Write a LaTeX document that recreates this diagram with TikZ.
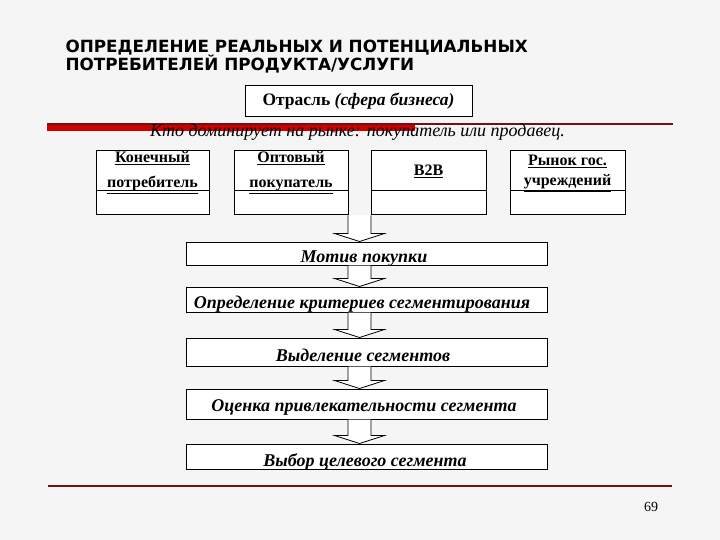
\documentclass[tikz,border=0pt]{standalone}
\usepackage{fontspec}
\setmainfont{Liberation Serif}
\newfontfamily\titlefont{DejaVu Sans}
\usetikzlibrary{calc,positioning}
\definecolor{barred}{RGB}{208,0,0}
\definecolor{linered}{RGB}{110,20,20}
\tikzset{x=1pt,y=-1pt,
  segbox/.style={draw, line width=1pt, fill=white, minimum height=64, inner sep=0pt},
  stepbox/.style={draw, line width=1pt, fill=white, minimum width=361, inner sep=0pt},
  segtext/.style={anchor=base, font=\bfseries\fontsize{16}{18}\selectfont},
  steptext/.style={anchor=base, font=\bfseries\itshape\fontsize{18}{20}\selectfont},
  arrowshape/.style={draw, line width=0.8pt, fill=white, line join=miter}}
\newcommand{\flowarrow}[2]{%
  \draw[arrowshape] ($(#1.south -| axis)+(-11.5,0)$) -- ($(#2.north -| axis)+(-11.5,-8)$)
    -- ++(-13.5,0) -- (#2.north -| axis) -- ($(#2.north -| axis)+(25,-8)$)
    -- ++(-13.5,0) -- ($(#1.south -| axis)+(11.5,0)$);}

\begin{document}
\begin{tikzpicture}

    \fill [black!4] (0,0) rectangle (720,540);
    \useasboundingbox (0,0) rectangle (720,540);
    \coordinate (axis) at (359.5,0);

	% title
	\node [anchor=base west, font=\titlefont\bfseries\fontsize{16.8}{18}\selectfont] (title1) at (62,53) {ОПРЕДЕЛЕНИЕ РЕАЛЬНЫХ И ПОТЕНЦИАЛЬНЫХ};
	\node [anchor=base west, font=\titlefont\bfseries\fontsize{16.8}{18}\selectfont] (title2) at (62,71) {ПОТРЕБИТЕЛЕЙ ПРОДУКТА/УСЛУГИ};

	\node [draw, line width=1pt, fill=white, minimum width=227, minimum height=31, font=\fontsize{17.5}{19}\selectfont] (otrasl) at (358.5,101.5) {\bfseries Отрасль \itshape(сфера бизнеса)};

	\fill [barred] (47,123) rectangle (415,131);
	\draw [linered, line width=1.2pt] (47,124) -- (673,124);
	\node [anchor=base, font=\itshape\fontsize{18}{20}\selectfont] (kto) at (357.5,137) {Кто доминирует на рынке: покупатель или продавец.};

	% segments
	\node [segbox, minimum width=113] (kon) at (152.5,183) {};
	\node [segbox, minimum width=114] (opt) at (291,183) {};
	\node [segbox, minimum width=115] (b2b) at (428.5,183) {};
	\node [segbox, minimum width=115] (gos) at (567.5,183) {};
	\foreach \b in {kon,opt,b2b,gos}
	    \draw [line width=1pt] (\b.west |- 0,191) -- (\b.east |- 0,191);

	\node [segtext] (konA) at (152.5,163) {\underline{Конечный}};
	\node [segtext] (konB) at (152.5,188) {\underline{потребитель}};
	\node [segtext] (optA) at (291,163) {\underline{Оптовый}};
	\node [segtext] (optB) at (291,188) {\underline{покупатель}};
	\node [segtext] (b2bA) at (428.5,176) {\underline{B2B}};
	\node [segtext] (gosA) at (567.5,166) {\underline{Рынок гос.}};
	\node [segtext] (gosB) at (567.5,186) {\underline{учреждений}};

	% steps
	\node [stepbox, minimum height=23] (motiv) at (366.5,253.5) {};
	\node [stepbox, minimum height=25] (krit) at (366.5,299.5) {};
	\node [stepbox, minimum height=28] (vyd) at (366.5,352) {};
	\node [stepbox, minimum height=30] (ocen) at (366.5,404) {};
	\node [stepbox, minimum height=25] (vybor) at (366.5,456.5) {};

	\node [steptext] (motivT) at (364,262) {Мотив покупки};
	\node [steptext] (kritT) at (362,308) {Определение критериев сегментирования};
	\node [steptext] (vydT) at (363,361) {Выделение сегментов};
	\node [steptext] (ocenT) at (364,411) {Оценка привлекательности сегмента};
	\node [steptext] (vyborT) at (365,466) {Выбор целевого сегмента};

	\flowarrow{opt}{motiv}
	\flowarrow{motiv}{krit}
	\flowarrow{krit}{vyd}
	\flowarrow{vyd}{ocen}
	\flowarrow{ocen}{vybor}

	\draw [linered, line width=1.5pt] (48,486) -- (672,486);
	\node [anchor=base, font=\fontsize{14}{16}\selectfont] (pgnum) at (651,511) {69};

\end{tikzpicture}
\end{document}
